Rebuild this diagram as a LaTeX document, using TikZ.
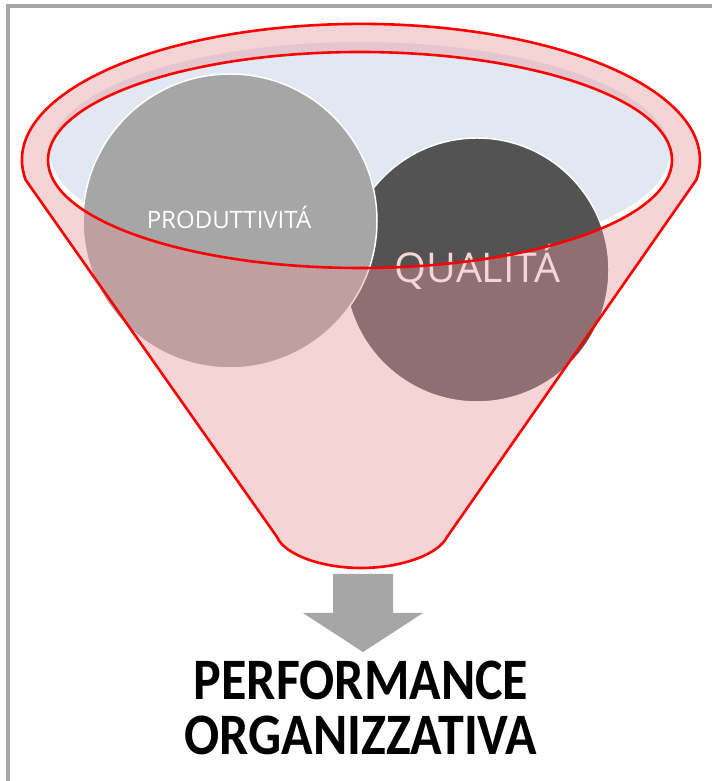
\documentclass[tikz,border=0pt]{standalone}
\usepackage{fontspec}
\newfontfamily\circfont{Open Sans}
\newfontfamily\titlefont{Carlito}
\definecolor{rimred}{RGB}{255,0,0}
\definecolor{funnelpink}{RGB}{230,151,156}
\definecolor{labelpink}{RGB}{245,213,216}
\definecolor{mouthblue}{RGB}{225,232,241}
\definecolor{lightgray}{RGB}{166,166,166}
\definecolor{darkgray}{RGB}{83,83,83}
\tikzset{
  ball/.style={draw=white, line width=1.5pt},
  outline/.style={draw=rimred, line width=2.6pt, line join=round},
  title/.style={anchor=base, yscale=1.13, transform shape, font=\titlefont\bfseries\fontsize{52}{55}\selectfont}
}
\begin{document}
\begin{tikzpicture}[x=1pt,y=1pt]
        \useasboundingbox (0,0) rectangle (712,781);
        % Coordinates
        \coordinate (rimL) at (25.7,601);
        \coordinate (spoutR) at (447,244);
        \coordinate (spoutB) at (361,213);
        \coordinate (spoutL) at (277,244);
        \coordinate (mouth) at (360,621);
        \coordinate (prodC) at (230,560);
        \coordinate (qualC) at (477,511);

        % Frame
        \draw[lightgray, line width=4pt] (7.5,0) -- (7.5,775) -- (712,775);

        % Inside of the funnel
        \fill[mouthblue] (360,629) ellipse [x radius=310, y radius=110];

        % Circles
        \filldraw[ball, fill=darkgray] (qualC) circle (132);
        \filldraw[ball, fill=lightgray] (prodC) circle (147);
        \node (prod) at (229,552) [anchor=base, text=white, font=\circfont\fontsize{24}{28}\selectfont] {PRODUTTIVITÁ};

        % Funnel front (see-through)
        \fill[funnelpink, fill opacity=0.41, even odd rule]
          (rimL) arc[start angle=188.5, end angle=-8.5, x radius=339, y radius=136]
          -- (spoutR) .. controls (438,226) and (400,213) .. (spoutB)
          .. controls (322,213) and (285,226) .. (spoutL) -- cycle
          (mouth) ellipse [x radius=312, y radius=108];
        \node (qual) at (477.5,498) [anchor=base, text=labelpink, font=\circfont\fontsize{41}{46}\selectfont] {QUALITÁ};

        % Red outlines
        \draw[outline] (rimL) arc[start angle=188.5, end angle=-8.5, x radius=339, y radius=136]
          -- (spoutR) .. controls (438,226) and (400,213) .. (spoutB)
          .. controls (322,213) and (285,226) .. (spoutL) -- cycle;
        \draw[outline] (mouth) ellipse [x radius=312, y radius=108];

        % Arrow
        \fill[lightgray] (333,207) -- (393,207) -- (393,168) -- (423,168) -- (363,129)
          -- (303,168) -- (333,168) -- cycle;

        % Labels
        \node (perf) at (361,81) [title] {PERFORMANCE};
        \node (org) at (361,26) [title] {ORGANIZZATIVA};
\end{tikzpicture}
\end{document}
